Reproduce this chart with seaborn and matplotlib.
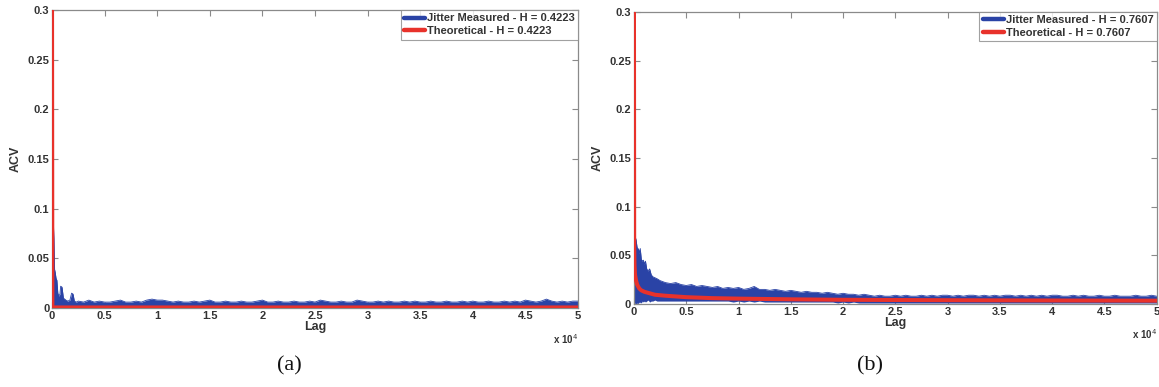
import numpy as np
import pandas as pd
import seaborn as sns
import matplotlib
matplotlib.use("Agg")
import matplotlib.pyplot as plt
from matplotlib.lines import Line2D

# ---------------- data ----------------
# Panel (a): H = 0.4223
lags_a_head = [0, 40, 100, 180, 240, 300, 380, 460, 550, 650, 750, 820, 950,
               1080, 1200, 1310, 1500, 1700, 1860, 2000, 2120, 2300]
meas_a_head = [0.060, 0.090, 0.093, 0.070, 0.039, 0.036, 0.030, 0.028, 0.015,
               0.012, 0.014, 0.022, 0.021, 0.010, 0.009, 0.008, 0.007, 0.008,
               0.015, 0.014, 0.007, 0.006]
lags_a_tail = list(range(2500, 50001, 500))
meas_a_tail = [
    0.007, 0.006, 0.008, 0.006, 0.007, 0.006, 0.006, 0.007, 0.008, 0.006,
    0.006, 0.007, 0.006, 0.008, 0.009, 0.008, 0.008, 0.007, 0.006, 0.007,
    0.006, 0.006, 0.007, 0.006, 0.007, 0.008, 0.006, 0.006, 0.007, 0.006,
    0.006, 0.007, 0.006, 0.006, 0.007, 0.008, 0.006, 0.006, 0.007, 0.006,
    0.006, 0.007, 0.006, 0.006, 0.007, 0.006, 0.008, 0.007, 0.006, 0.006,
    0.007, 0.006, 0.006, 0.008, 0.007, 0.006, 0.006, 0.007, 0.006, 0.007,
    0.006, 0.006, 0.007, 0.006, 0.007, 0.006, 0.006, 0.007, 0.006, 0.006,
    0.007, 0.006, 0.006, 0.007, 0.006, 0.007, 0.006, 0.006, 0.007, 0.006,
    0.006, 0.007, 0.006, 0.007, 0.006, 0.008, 0.007, 0.006, 0.007, 0.009,
    0.007, 0.006, 0.007, 0.006, 0.007, 0.007]
theo_a_lags = [0, 30, 50000]
theo_a_vals = [0.300, 0.0006, 0.0006]

# Panel (b): H = 0.7607
lags_b_head = [0, 60, 120, 200, 300, 380, 450, 520, 600, 700, 800, 900, 1000,
               1100, 1220, 1350, 1500, 1650, 1800, 2000, 2200]
meas_b_hi_head = [0.050, 0.070, 0.069, 0.066, 0.058, 0.057, 0.056, 0.052,
                  0.057, 0.046, 0.044, 0.045, 0.041, 0.044, 0.036, 0.034,
                  0.036, 0.030, 0.028, 0.027, 0.026]
meas_b_lo_head = [0.000, 0.000, 0.001, 0.000, 0.001, 0.000, 0.002, 0.001,
                  0.002, 0.001, 0.003, 0.002, 0.003, 0.002, 0.003, 0.004,
                  0.002, 0.003, 0.003, 0.004, 0.003]
lags_b_tail = list(range(2500, 50001, 500))
meas_b_hi_tail = [
    0.024, 0.022, 0.021, 0.022, 0.020, 0.019, 0.020, 0.018, 0.019, 0.018,
    0.017, 0.018, 0.016, 0.017, 0.016, 0.017, 0.015, 0.016, 0.018, 0.015,
    0.015, 0.014, 0.015, 0.014, 0.013, 0.014, 0.013, 0.012, 0.013, 0.012,
    0.012, 0.011, 0.012, 0.011, 0.010, 0.011, 0.010, 0.010, 0.009, 0.010,
    0.009, 0.008, 0.009, 0.008, 0.008, 0.009, 0.008, 0.009, 0.008, 0.008,
    0.009, 0.008, 0.009, 0.008, 0.009, 0.009, 0.008, 0.009, 0.008, 0.009,
    0.009, 0.008, 0.009, 0.008, 0.009, 0.008, 0.009, 0.009, 0.008, 0.009,
    0.008, 0.009, 0.008, 0.009, 0.008, 0.009, 0.009, 0.008, 0.008, 0.009,
    0.008, 0.009, 0.008, 0.008, 0.009, 0.008, 0.008, 0.009, 0.008, 0.008,
    0.008, 0.009, 0.008, 0.008, 0.009, 0.008]
meas_b_lo_tail = [
    0.003, 0.003, 0.003, 0.003, 0.003, 0.003, 0.003, 0.003, 0.003, 0.003,
    0.003, 0.003, 0.003, 0.003, 0.002, 0.003, 0.002, 0.003, 0.002, 0.003,
    0.002, 0.002, 0.002, 0.002, 0.002, 0.002, 0.002, 0.002, 0.002, 0.002,
    0.002, 0.002, 0.002, 0.002, 0.001, 0.002, 0.001, 0.002, 0.001, 0.001,
    0.001, 0.001, 0.001, 0.001, 0.001, 0.001, 0.001, 0.001, 0.001, 0.001,
    0.001, 0.001, 0.001, 0.001, 0.001, 0.001, 0.001, 0.001, 0.001, 0.001,
    0.001, 0.001, 0.001, 0.001, 0.001, 0.001, 0.001, 0.001, 0.001, 0.001,
    0.001, 0.001, 0.001, 0.001, 0.001, 0.001, 0.001, 0.001, 0.001, 0.001,
    0.001, 0.001, 0.001, 0.001, 0.001, 0.001, 0.001, 0.001, 0.001, 0.001,
    0.001, 0.001, 0.001, 0.001, 0.001, 0.001]
theo_b_lags = [0, 20, 50, 100, 200, 300, 500, 700, 1000, 1500, 2000, 3000,
               5000, 7500, 10000, 15000, 20000, 30000, 40000, 50000]
theo_b_vals = [0.300, 0.060, 0.040, 0.030, 0.024, 0.020, 0.016, 0.014,
               0.0125, 0.011, 0.0095, 0.0085, 0.007, 0.006, 0.0055, 0.0048,
               0.0043, 0.0039, 0.0036, 0.0034]

h_labels = ["0.4223", "0.7607"]
panel_tags = ["(a)", "(b)"]
x_ticks = [0, 5000, 10000, 15000, 20000, 25000, 30000, 35000, 40000, 45000, 50000]
x_tick_labels = ["0", "0.5", "1", "1.5", "2", "2.5", "3", "3.5", "4", "4.5", "5"]
y_ticks = [0, 0.05, 0.1, 0.15, 0.2, 0.25, 0.3]
y_tick_labels = ["0", "0.05", "0.1", "0.15", "0.2", "0.25", "0.3"]

# ---------------- styling ----------------
sns.set_theme(style="white")
plt.rcParams["font.family"] = ["Liberation Sans", "DejaVu Sans"]

BLUE = "#2a43a6"
RED = "#e8322b"
TXT = "#333333"
SPINE = "#8a8a8a"

fig = plt.figure(figsize=(11.59, 3.87), dpi=100)
ax_a = fig.add_axes([0.0449, 0.204, 0.4538, 0.770])
ax_b = fig.add_axes([0.547, 0.2145, 0.451, 0.7545])

panels = [
    dict(ax=ax_a,
         lags=lags_a_head + lags_a_tail,
         hi=meas_a_head + meas_a_tail,
         lo=None,
         tl=theo_a_lags, tv=theo_a_vals),
    dict(ax=ax_b,
         lags=lags_b_head + lags_b_tail,
         hi=meas_b_hi_head + meas_b_hi_tail,
         lo=meas_b_lo_head + meas_b_lo_tail,
         tl=theo_b_lags, tv=theo_b_vals),
]

for i, p in enumerate(panels):
    ax = p["ax"]
    lags = np.array(p["lags"], dtype=float)
    hi = np.array(p["hi"], dtype=float)
    lo = np.full_like(hi, -0.002) if p["lo"] is None else np.array(p["lo"], dtype=float)

    # measured autocovariance: dense noisy band
    ax.fill_between(lags, lo, hi, color=BLUE, linewidth=0, zorder=2)
    meas_df = pd.DataFrame({"lag": lags, "acv": hi})
    sns.lineplot(data=meas_df, x="lag", y="acv", ax=ax, color=BLUE, lw=0.6,
                 estimator=None, sort=False, zorder=2)

    # theoretical autocovariance
    theo_df = pd.DataFrame({"lag": p["tl"], "acv": p["tv"]})
    sns.lineplot(data=theo_df, x="lag", y="acv", ax=ax, color=RED, lw=2.9,
                 estimator=None, sort=False, zorder=3)

    ax.set_xlim(0, 50000)
    ax.set_ylim(0, 0.3)
    ax.set_xticks(x_ticks)
    ax.set_xticklabels(x_tick_labels)
    ax.set_yticks(y_ticks)
    ax.set_yticklabels(y_tick_labels)
    ax.tick_params(direction="in", length=4, width=0.8, color=SPINE,
                   top=True, right=True, bottom=True, left=True,
                   labelsize=8, labelcolor=TXT, pad=2)
    for lab in ax.get_xticklabels() + ax.get_yticklabels():
        lab.set_fontweight("bold")
    for s in ax.spines.values():
        s.set_color(SPINE)
        s.set_linewidth(0.9)
    ax.set_xlabel("Lag", fontsize=9, fontweight="bold", color=TXT, labelpad=0)
    ax.set_ylabel("ACV", fontsize=9, fontweight="bold", color=TXT, labelpad=4)
    ax.text(1.0, -0.08, r"x 10$^4$", transform=ax.transAxes, ha="right",
            va="top", fontsize=7, fontweight="bold", color=TXT)

    handles = [Line2D([], [], color=BLUE, lw=3.2), Line2D([], [], color=RED, lw=3.2)]
    labels = [f"Jitter Measured - H = {h_labels[i]}", f"Theoretical - H = {h_labels[i]}"]
    leg = ax.legend(handles, labels, loc="upper right", fontsize=8.0,
                    frameon=True, fancybox=False, handlelength=1.9,
                    handletextpad=0.15, borderpad=0.3, labelspacing=0.25,
                    borderaxespad=0.0)
    leg.get_frame().set_edgecolor(SPINE)
    leg.get_frame().set_linewidth(0.8)
    for t in leg.get_texts():
        t.set_fontweight("bold")
        t.set_color(TXT)

tag_x = [0.250, 0.751]
for x, tag in zip(tag_x, panel_tags):
    fig.text(x, 0.055, tag, ha="center", va="center", fontsize=16,
             family=["Liberation Serif", "DejaVu Serif"], color="#111111")

fig.savefig("out.png", dpi=100)
